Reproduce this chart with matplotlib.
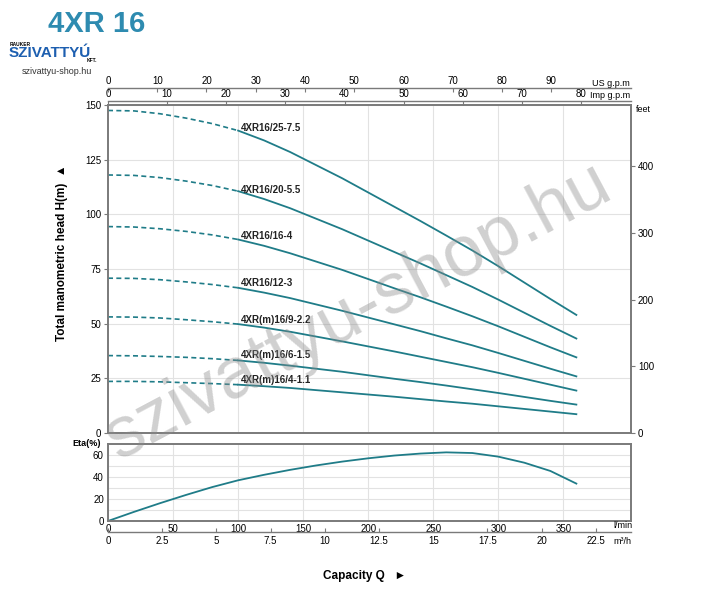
import matplotlib
matplotlib.use("Agg")
import matplotlib.pyplot as plt
import numpy as np

plt.rcParams['font.family'] = ['Liberation Sans', 'DejaVu Sans']

# ---------------- data ----------------
q_lmin = [0, 20, 40, 60, 80, 100, 120, 140, 160, 180, 200, 220, 240, 260, 280, 300, 320, 340, 360]
models = ["4XR16/25-7.5", "4XR16/20-5.5", "4XR16/16-4", "4XR16/12-3",
          "4XR(m)16/9-2.2", "4XR(m)16/6-1.5", "4XR(m)16/4-1.1"]
head_25 = [147.5, 147.3, 146.0, 144.0, 141.5, 138.3, 133.8, 128.5, 122.5, 116.5, 110.0, 103.5, 97.0, 90.3, 83.5, 76.3, 68.8, 61.3, 54.0]
head_20 = [118.0, 117.8, 116.8, 115.2, 113.2, 110.6, 107.0, 102.8, 98.0, 93.2, 88.0, 82.8, 77.6, 72.2, 66.8, 61.0, 55.0, 49.0, 43.2]
head_16 = [94.4, 94.2, 93.4, 92.2, 90.6, 88.5, 85.6, 82.2, 78.4, 74.6, 70.4, 66.2, 62.1, 57.8, 53.4, 48.8, 44.0, 39.2, 34.6]
head_12 = [70.8, 70.7, 70.1, 69.1, 67.9, 66.4, 64.2, 61.7, 58.8, 55.9, 52.8, 49.7, 46.6, 43.3, 40.1, 36.6, 33.0, 29.4, 25.9]
head_9 = [53.1, 53.0, 52.6, 51.8, 50.9, 49.8, 48.2, 46.3, 44.1, 41.9, 39.6, 37.3, 34.9, 32.5, 30.1, 27.5, 24.8, 22.1, 19.4]
head_6 = [35.4, 35.3, 35.0, 34.6, 34.0, 33.2, 32.1, 30.8, 29.4, 28.0, 26.4, 24.8, 23.3, 21.7, 20.0, 18.3, 16.5, 14.7, 13.0]
head_4 = [23.6, 23.6, 23.4, 23.0, 22.6, 22.1, 21.4, 20.6, 19.6, 18.6, 17.6, 16.6, 15.5, 14.4, 13.4, 12.2, 11.0, 9.8, 8.6]
heads = [head_25, head_20, head_16, head_12, head_9, head_6, head_4]
label_heads = [139.5, 111.3, 90.0, 68.6, 51.7, 35.7, 24.2]

eta_q = [0, 20, 40, 60, 80, 100, 120, 140, 160, 180, 200, 220, 240, 260, 280, 300, 320, 340, 360]
eta = [0, 8.3, 16.2, 23.7, 30.8, 37.0, 42.0, 46.5, 50.5, 54.0, 57.0, 59.5, 61.3, 62.4, 61.8, 58.5, 53.0, 45.5, 34.0]

lmin_ticks = [0, 50, 100, 150, 200, 250, 300, 350]
m3h_ticks = [0, 2.5, 5, 7.5, 10, 12.5, 15, 17.5, 20, 22.5]
m3h_labels = ["0", "2.5", "5", "7.5", "10", "12.5", "15", "17.5", "20", "22.5"]
usgpm_ticks = [0, 10, 20, 30, 40, 50, 60, 70, 80, 90]
impgpm_ticks = [0, 10, 20, 30, 40, 50, 60, 70, 80]
head_ticks = [0, 25, 50, 75, 100, 125, 150]
feet_ticks = [0, 100, 200, 300, 400]
eta_ticks = [0, 20, 40, 60]

# ---------------- style ----------------
W, H = 711, 600
QMAX = 402
teal = "#1f7c88"
spine_c = "#7a7a7a"
grid_c = "#e2e2e2"
fs = 7

fig = plt.figure(figsize=(W / 100, H / 100), dpi=100)


def fx(px):
    return px / W


def fy(py):
    return 1 - py / H


# main axes
ax = fig.add_axes([fx(108), fy(433), fx(631 - 108), fy(105) - fy(433)])
ax.set_xlim(0, QMAX)
ax.set_ylim(0, 150)
ax.set_yticks(head_ticks)
ax.set_yticklabels([str(t) for t in head_ticks], fontsize=fs)
ax.set_xticks(lmin_ticks[1:])
ax.tick_params(axis='x', length=0, labelbottom=False)
ax.tick_params(axis='y', length=3, width=0.8, color=spine_c, pad=2)
ax.grid(True, color=grid_c, lw=0.8)
for s in ax.spines.values():
    s.set_color(spine_c)
    s.set_linewidth(1.4)

qa = np.array(q_lmin)
for name, h, lh in zip(models, heads, label_heads):
    h = np.array(h)
    m_d = qa <= 100
    m_s = qa >= 100
    ax.plot(qa[m_d], h[m_d], color=teal, lw=1.2, ls=(0, (3, 2)))
    ax.plot(qa[m_s], h[m_s], color=teal, lw=1.3, solid_joinstyle='round')
    ax.text(102, lh, name, fontsize=7, fontweight='bold', color='#222222',
            va='center', ha='left')

# feet axis
axr = ax.twinx()
axr.set_ylim(0, 150 * 3.28084)
axr.set_yticks(feet_ticks)
axr.set_yticklabels([str(t) for t in feet_ticks], fontsize=fs)
axr.tick_params(axis='y', length=3, width=0.8, color=spine_c, pad=2)
for s in axr.spines.values():
    s.set_visible(False)
fig.text(fx(636), fy(110), "feet", fontsize=6.5, va='center', ha='left')

fig.text(fx(62), fy(253), "Total manometric head H(m)  \u25B2", fontsize=8.5,
         fontweight='bold', rotation=90, ha='center', va='center')

# top axes: US gpm and Imp gpm
for ypx, tks, fac, unit in [(88, usgpm_ticks, 3.78541, "US g.p.m"),
                            (101, impgpm_ticks, 4.54609, "Imp g.p.m")]:
    a = fig.add_axes([fx(108), fy(ypx), fx(631 - 108), 0.0001])
    a.set_xlim(0, QMAX / fac)
    a.set_ylim(0, 1)
    a.set_xticks(tks)
    a.set_xticklabels([str(t) for t in tks], fontsize=fs)
    a.set_yticks([])
    a.xaxis.set_ticks_position('top')
    a.tick_params(axis='x', direction='in', length=3, width=0.8, color=spine_c,
                  pad=1.5, top=True, bottom=False, labeltop=True, labelbottom=False)
    for k, s in a.spines.items():
        s.set_visible(k == 'top')
    a.spines['top'].set_color(spine_c)
    a.spines['top'].set_linewidth(1.0)
    a.patch.set_visible(False)
    fig.text(fx(630), fy(ypx - 5), unit, fontsize=6.5, ha='right', va='center')

# eta axes
ae = fig.add_axes([fx(108), fy(521), fx(631 - 108), fy(444) - fy(521)])
ae.set_xlim(0, QMAX)
ae.set_ylim(0, 70)
ae.set_yticks(eta_ticks)
ae.set_yticklabels([str(t) for t in eta_ticks], fontsize=fs)
ae.set_yticks([10, 30, 50], minor=True)
ae.set_xticks(lmin_ticks)
ae.set_xticklabels([str(t) for t in lmin_ticks], fontsize=fs)
ae.tick_params(axis='x', length=0, pad=2)
ae.tick_params(axis='y', which='both', length=0, pad=3)
ae.grid(True, which='both', color=grid_c, lw=0.8)
for s in ae.spines.values():
    s.set_color(spine_c)
    s.set_linewidth(1.4)
ae.plot(eta_q, eta, color=teal, lw=1.3, solid_joinstyle='round')
fig.text(fx(72), fy(443), "Eta(%)", fontsize=6.5, fontweight='bold', ha='left', va='center')
fig.text(fx(613), fy(526), "l/min", fontsize=6.5, ha='left', va='center')

# m3/h axis
am = fig.add_axes([fx(108), fy(532), fx(631 - 108), 0.0001])
am.set_xlim(0, QMAX * 0.06)
am.set_xticks(m3h_ticks)
am.set_xticklabels(m3h_labels, fontsize=fs)
am.set_yticks([])
am.tick_params(axis='x', direction='in', length=3, width=0.8, color=spine_c, pad=3)
for k, s in am.spines.items():
    s.set_visible(k == 'bottom')
am.spines['bottom'].set_color(spine_c)
am.spines['bottom'].set_linewidth(1.0)
am.patch.set_visible(False)
fig.text(fx(613), fy(542), "m\u00B3/h", fontsize=6.5, ha='left', va='center')

fig.text(fx(365), fy(576), "Capacity Q   \u25BA", fontsize=8.5, fontweight='bold',
         ha='center', va='center')

# title / logo text
fig.text(fx(48), fy(24), "4XR 16", fontsize=21, fontweight='bold', color='#2e8bb0',
         ha='left', va='center')
fig.text(fx(10), fy(44), "RAUKER", fontsize=3.5, fontweight='bold', ha='left', va='center')
fig.text(fx(9), fy(53), "SZIVATTYÚ", fontsize=11, fontweight='bold', color='#1d5fb0',
         ha='left', va='center')
fig.text(fx(87), fy(61), "KFT.", fontsize=3.5, fontweight='bold', ha='left', va='center')
fig.text(fx(57), fy(71), "szivattyu-shop.hu", fontsize=6.5, ha='center', va='center',
         color='#333333')

# watermark
fig.text(fx(358), fy(312), "szivattyu-shop.hu", fontsize=52, color='#8a8a8a', alpha=0.4,
         rotation=28, ha='center', va='center', family='Liberation Sans')

fig.savefig("out.png", dpi=100)
